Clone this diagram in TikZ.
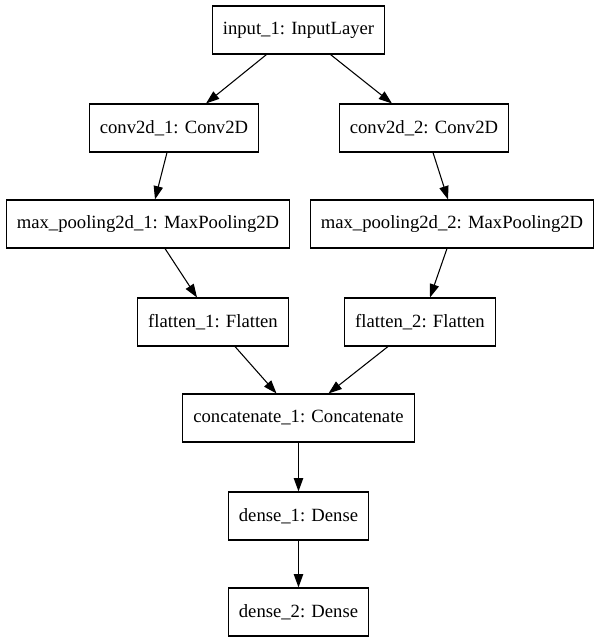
\documentclass[tikz,border=0pt]{standalone}
\usepackage{fontspec}
\setmainfont{Liberation Serif}
\usetikzlibrary{arrows.meta,calc}
\begin{document}
\begin{tikzpicture}[x=0.75pt,y=-0.75pt,
  layer/.style={draw,line width=0.8pt,font=\fontsize{14pt}{16pt}\selectfont,inner xsep=8pt,minimum height=36pt,anchor=center},
  conn/.style={draw,line width=0.8pt,-{Triangle[length=10pt,width=7pt]}}]
\useasboundingbox (0,0) rectangle (600,644);
\node[layer] (in) at (298.5,30) {input\_1: InputLayer};
\node[layer] (c1) at (174,128) {conv2d\_1: Conv2D};
\node[layer] (c2) at (424,128) {conv2d\_2: Conv2D};
\node[layer] (m1) at (148,224) {max\_pooling2d\_1: MaxPooling2D};
\node[layer] (m2) at (452,224) {max\_pooling2d\_2: MaxPooling2D};
\node[layer] (f1) at (213,322) {flatten\_1: Flatten};
\node[layer] (f2) at (420,322) {flatten\_2: Flatten};
\node[layer] (cc) at (298.5,418) {concatenate\_1: Concatenate};
\node[layer] (d1) at (298.5,516) {dense\_1: Dense};
\node[layer] (d2) at (298.5,612) {dense\_2: Dense};
\draw[conn] ($(in.south)+(-32,0)$) -- ($(c1.north)+(32,0)$);
\draw[conn] ($(in.south)+(32,0)$) -- ($(c2.north)+(-32,0)$);
\draw[conn] ($(c1.south)+(-7,0)$) -- ($(m1.north)+(7,0)$);
\draw[conn] ($(c2.south)+(9,0)$) -- ($(m2.north)+(-4,0)$);
\draw[conn] ($(m1.south)+(17,0)$) -- ($(f1.north)+(-16,0)$);
\draw[conn] ($(m2.south)+(-5,0)$) -- ($(f2.north)+(10,0)$);
\draw[conn] ($(f1.south)+(22,0)$) -- ($(cc.north)+(-22,0)$);
\draw[conn] ($(f2.south)+(-32,0)$) -- ($(cc.north)+(30,0)$);
\draw[conn] (cc) -- (d1);
\draw[conn] (d1) -- (d2);
\end{tikzpicture}
\end{document}
